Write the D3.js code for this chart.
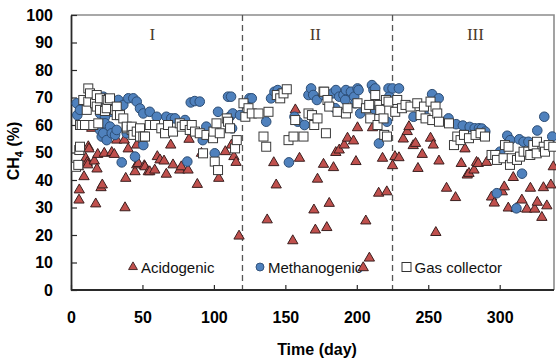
<!DOCTYPE html>
<html><head><meta charset="utf-8">
<script src="https://cdn.jsdelivr.net/npm/d3@7"></script>
<style>body{margin:0;background:#fff;}svg{display:block;}</style>
</head><body>
<svg id="c" width="556" height="361"></svg>
<script>
// ---- data: [day, CH4 %] ----
const acidogenic = [
[5.1,44.8],[5.6,32.7],[5.8,36.4],[9.1,41.2],[10.3,47.9],[11.4,46.4],[11.7,45.5],[12.1,52.1],[12.6,51.3],[14.5,58.8],
[16.3,46.9],[17.3,31.3],[18.2,44],[18.7,49.3],[21,37.2],[21.9,38.2],[23.3,49.7],[28.5,50],[30.3,49.3],[32,54.5],
[37.3,54.5],[37.8,29.9],[38.3,40.6],[40,51.3],[44.8,43],[46,45.5],[46,52.7],[47.1,46],[51.3,45.2],[51.8,44.8],
[54.1,43],[55.1,43],[58.6,43.6],[60.4,48.5],[62.3,47.3],[65.1,46.9],[66.7,42.1],[69.8,52.7],[71.4,45.5],[76.1,43.6],
[77.2,44.8],[81.9,43.6],[82.6,54.8],[88.4,38.4],[91.3,49.7],[103.4,40.6],[108,50.3],[112.3,52.7],[114,48.5],[115.5,46.4],
[117.6,19.6],
[137.3,25.5],[141.9,46.3],[143.6,38.2],[155.2,17.9],[157,65.5],[159.9,47.9],[170,29.1],[171,21.8],[172.5,40.3],
[176.7,45.7],[179,22.7],[180.7,31.5],[183.7,44.5],[185.3,50],[187.7,50.9],[191.2,52.7],[193.5,55.2],[197.7,54.2],
[199.4,46.7],[200.5,59],[204.5,8.1],[206.3,25.1],[208.8,11.6],[211,59],[215.3,35.2],[218,47.9],[221,35.7],[225,45.2],[226.7,48.5],
[229.5,48.1],[232.5,54.9],[235.3,57.6],[236.5,59.4],[239.5,52.5],[241.1,53.3],[242.8,44.2],[245.8,49.3],[251.6,55.2],
[253.5,52.7],[255.3,20.9],[257.5,46.9],[262.8,37],[269.1,33.6],[273.1,46],[275.7,51.3],[277.3,41.8],[278.5,42.4],
[282,43.6],[283.8,46.4],[285,46],[290.8,46.4],[294.3,33.8],[296.2,31.6],[301.8,35.7],[303.2,37.5],[306,29.8],
[309.5,40.9],[311.5,29.6],[315.5,32.7],[319,29.4],[321.5,37],[324.5,29.4],[326.3,31.9],[329.5,26.4],[330.6,37.2],
[333,30.6],[335.8,38.2],[337.5,44.8]
];
const methanogenic = [
[4,67.9],[4.4,63.6],[6.3,65.5],[13.3,68.5],[20.3,69.1],[20.3,64.2],[20.3,58.2],[21.5,55.8],[22.6,70.3],[22.6,57],
[23.8,63],[23.8,60.6],[25,69.1],[25,54.5],[27.3,59.4],[28.5,64.8],[28.5,57],[29.6,68.5],[30.8,56.4],[32,58.2],
[33.1,69.1],[35.5,46.4],[36.6,67.3],[39,57],[40.1,69.7],[43.6,69.7],[44.8,48.5],[46,68.5],[48.3,66],[50.6,64.2],
[50.6,52.7],[55.1,64.8],[60,63],[66.7,63],[70.2,62.4],[72.8,62.4],[79.8,61.8],[81.4,46.7],[83.8,68.2],[86.6,68.7],
[90.1,68.5],[92.2,54.5],[94.7,59.4],[100.6,49.7],[102.9,64.8],[109.9,70.3],[111.1,63],[112,70.3],[113.2,64.2],
[112.7,58.8],[118.3,63.6],
[123.2,67.3],[124.9,69.7],[126.5,69.7],[136.6,61.2],[140,69.7],[142.4,72.1],[144.7,72.7],[146.4,71.5],[152.5,46.4],
[156.4,63],[158.7,61.2],[163.4,60],[166.2,70.9],[168,73.3],[169.5,70.9],[172.1,69.1],[176.7,70.9],[179.5,70.9],
[183,71.5],[184.9,66.1],[185.4,72.7],[187.7,70.3],[190.7,70.9],[191.9,69.1],[192.4,72.7],[195.9,72.1],[198.2,70.3],
[198.9,67.9],[200.5,73.3],[201.2,72.7],[202.4,64.2],[207.5,66.7],[210.6,74.5],[211.7,72.7],[212.9,73.3],[212.9,65.5],
[215.5,53.3],[221.1,61.2],[222.2,73.3],[222.7,70.3],[225,73.3],
[229.5,73.3],[239.7,63],[246.7,64.2],[252.7,71.2],[257.3,69.7],[264.2,62.4],[269.5,60.3],[274.2,59.8],[279,59.3],
[282.5,58.8],[285.5,58.8],[287.5,58.7],[289.9,57.6],[298.1,49.1],[298,35.2],[300.3,50.3],[305.3,56.1],[307.4,54.5],
[311.7,29.7],[313.7,54.8],[315.6,42.3],[316.7,53.9],[320.1,53.9],[326.3,58],[331.2,63],[336.8,55.8]
];
const gasCollector = [
[3.5,44.8],[5.1,45.5],[5.8,50.9],[6.3,52.1],[6.3,60],[7.5,60],[8.6,69.1],[9.8,60],[11,65.5],[12.1,73.3],
[12.1,68.5],[13.3,71.5],[15.6,60],[16.8,67.9],[18,70.9],[18,66.7],[19.1,60.6],[20.3,65.5],[20.3,69.7],[23.8,65.1],
[25,69.1],[25,66.1],[26.1,69.1],[27.3,69.7],[30.8,65.5],[32,66.7],[32,63.6],[34.3,63.6],[36.6,62.4],[39,58.8],
[39,59.4],[42.5,58.2],[42.5,59.4],[43.6,56.4],[46,57.6],[48.3,58.8],[48.3,55.8],[50.6,55.8],[51.8,55.8],[55.1,60],
[58.8,60],[63.2,58.8],[65.8,57],[67.9,60],[71.4,57.6],[76.1,60.6],[77.5,59.4],[79.6,60],[83.1,58.2],[84.5,60],
[86.8,57.6],[90.1,57],[92.4,49.7],[94.8,56.4],[99.4,55.2],[99.7,57.6],[100.6,46.7],[101.8,60.6],[102.9,43.6],[104.1,57],
[109,62.4],[109.9,61.2],[111.3,58.8],[114.8,51.5],[116,54.5],
[120.7,67.9],[122,63],[124.2,66.1],[126.5,64.2],[131.2,64.2],[134.7,55.8],[136.6,52.1],[138.2,64.8],[144,70.9],
[146.4,69.7],[148.7,71.5],[151,73],[152.2,54.5],[155.7,55.8],[156.9,61.8],[162.7,55.8],[166.2,64.2],[168.6,63.6],
[170.2,60],[172.5,62.4],[176.7,72.1],[177.2,72.1],[178.4,57],[179.5,69.1],[180.7,66.7],[186.5,64.8],[192.4,64.2],
[193.5,66.1],[200.5,67.9],[206.4,66.1],[208.7,67.3],[209.4,62.4],[212.9,70.9],[214.5,60],[215.7,67.3],[216.4,65.5],
[218.7,62.4],[219.2,56.4],[220.4,69.1],[221.1,55.8],[222.2,68.5],
[226.9,64.8],[228.3,69.1],[231.6,66.1],[234.1,67.3],[237.6,66.7],[242.3,67.9],[244.6,63.6],[247,66.7],[248.1,62.4],
[251.6,68.5],[252.8,61.8],[255.1,66.7],[256.3,64.2],[257.5,61.2],[264.5,60.6],[268,52.7],[270.3,55.8],[272.6,54.5],
[275,56.4],[278.5,55.2],[283.1,56.4],[286.6,57],[289.7,55.8],[294.3,49.1],[296.9,49.1],[298.1,47.3],[302.7,47.9],
[303.7,52.7],[306.2,52.1],[307.2,45.5],[308.4,47.9],[312.1,47.3],[314.2,48.5],[316.7,50.3],[320,50.3],[321.4,49.1],
[323.5,52.7],[325.9,49.7],[326.1,53.9],[330.8,52.1],[331.7,50.3],[334.3,52.7],[337.5,52.1]
];
const xTicks = [0, 50, 100, 150, 200, 250, 300];
const yTicks = [0, 10, 20, 30, 40, 50, 60, 70, 80, 90, 100];
const phaseBounds = [120, 225];
const phaseLabels = [{label: "I", day: 57}, {label: "II", day: 171}, {label: "III", day: 283}];
const legendItems = ["Acidogenic", "Methanogenic", "Gas collector"];

// ---- drawing ----
const svg = d3.select("#c");
const L = 71, R = 554, T = 15, B = 290;
const x = d3.scaleLinear().domain([0, 338]).range([L, R]);
const y = d3.scaleLinear().domain([0, 100]).range([B, T]);
const font = "Arial, 'Liberation Sans', sans-serif";

svg.append("rect").attr("width", 556).attr("height", 361).attr("fill", "#fff");

// frame top/right
svg.append("path").attr("d", `M${L},${T}H${R}V${B}`).attr("fill", "none")
  .attr("stroke", "#8c8c8c").attr("stroke-width", 1.6);

// phase dividers
svg.selectAll("line.ph").data(phaseBounds).join("line")
  .attr("x1", d => x(d)).attr("x2", d => x(d)).attr("y1", T).attr("y2", B)
  .attr("stroke", "#555").attr("stroke-width", 1.3).attr("stroke-dasharray", "6,4");

svg.selectAll("text.ph").data(phaseLabels).join("text")
  .attr("x", d => x(d.day)).attr("y", 40).attr("text-anchor", "middle")
  .attr("font-family", "'Liberation Serif', 'Times New Roman', serif").attr("font-size", 17)
  .attr("fill", "#4a3a2a").text(d => d.label);

// axes
const yAx = svg.append("g").attr("transform", `translate(${L},0)`)
  .call(d3.axisLeft(y).tickValues(yTicks).tickSize(-6).tickPadding(18).tickSizeOuter(0));
const xAx = svg.append("g").attr("transform", `translate(0,${B})`)
  .call(d3.axisBottom(x).tickValues(xTicks).tickSize(-5).tickPadding(22).tickSizeOuter(0));
[yAx, xAx].forEach(g => {
  g.select(".domain").attr("stroke", "#2a2a2a").attr("stroke-width", 1.8);
  g.selectAll(".tick line").attr("stroke", "#2a2a2a").attr("stroke-width", 1.2);
  g.selectAll("text").attr("font-family", font).attr("font-size", 16)
    .attr("font-weight", "bold").attr("fill", "#000");
});
xAx.select(".domain").attr("d", `M${L},0H${R}`);

// axis titles
svg.append("text").attr("x", 317).attr("y", 355).attr("text-anchor", "middle")
  .attr("font-family", font).attr("font-size", 16).attr("font-weight", "bold").text("Time (day)");
const yl = svg.append("text").attr("transform", "translate(19,151) rotate(-90)")
  .attr("text-anchor", "middle").attr("font-family", font).attr("font-size", 16).attr("font-weight", "bold");
yl.append("tspan").text("CH");
yl.append("tspan").attr("font-size", 11).attr("dy", 4).text("4");
yl.append("tspan").attr("dy", -4).text(" (%)");

// legend
const triSym = d3.symbol(d3.symbolTriangle, 46);
const triSmall = d3.symbol(d3.symbolTriangle, 34);
const lg = svg.append("g").attr("font-family", font).attr("font-size", 15).attr("fill", "#111");
const legX = [133, 260, 406.5], legY = 267;
lg.append("path").attr("d", triSmall()).attr("transform", `translate(${legX[0]},${legY})`)
  .attr("fill", "#c0504d").attr("stroke", "#3b1f1f").attr("stroke-width", 0.9);
lg.append("circle").attr("cx", legX[1]).attr("cy", legY).attr("r", 4)
  .attr("fill", "#4f81bd").attr("stroke", "#2c4d75").attr("stroke-width", 0.9);
lg.append("rect").attr("x", legX[2] - 4.5).attr("y", legY - 4.5).attr("width", 9).attr("height", 9)
  .attr("fill", "#fff").attr("stroke", "#333").attr("stroke-width", 1);
lg.selectAll("text").data(legendItems).join("text")
  .attr("x", (d, i) => legX[i] + 8).attr("y", legY + 5.5).text(d => d);

// series
svg.append("g").selectAll("path").data(acidogenic).join("path")
  .attr("d", triSym()).attr("transform", d => `translate(${x(d[0])},${y(d[1])})`)
  .attr("fill", "#c0504d").attr("stroke", "#3b1f1f").attr("stroke-width", 1);
svg.append("g").selectAll("circle").data(methanogenic).join("circle")
  .attr("cx", d => x(d[0])).attr("cy", d => y(d[1])).attr("r", 4.8)
  .attr("fill", "#4f81bd").attr("stroke", "#2c4d75").attr("stroke-width", 1);
svg.append("g").selectAll("rect").data(gasCollector).join("rect")
  .attr("x", d => x(d[0]) - 4.5).attr("y", d => y(d[1]) - 4.5).attr("width", 9).attr("height", 9)
  .attr("fill", "#fff").attr("stroke", "#3a3a3a").attr("stroke-width", 1);
</script>
</body></html>
